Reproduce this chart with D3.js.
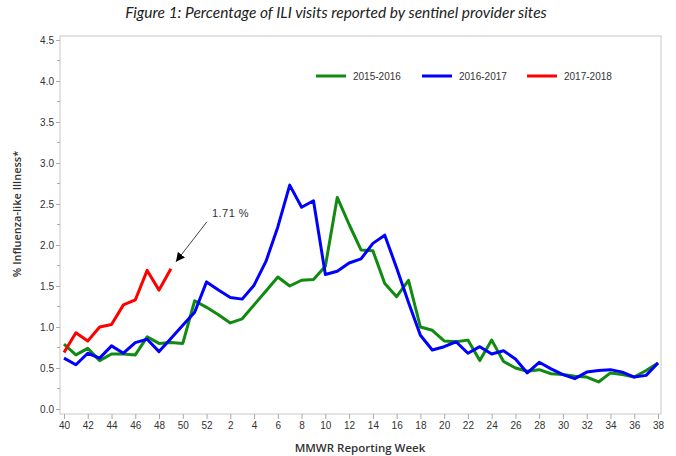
<!DOCTYPE html>
<html>
<head>
<meta charset="utf-8">
<script src="https://cdn.jsdelivr.net/npm/d3@7"></script>
<style>
  body { margin: 0; background: #fff; }
  svg text { font-family: "Liberation Sans", Arial, sans-serif; }
</style>
</head>
<body>
<svg id="chart" width="676" height="456"></svg>
<script>
// MMWR weeks, season runs week 40 through week 38
var weeks = [40,41,42,43,44,45,46,47,48,49,50,51,52,
             1,2,3,4,5,6,7,8,9,10,11,12,13,14,15,16,17,18,19,20,
             21,22,23,24,25,26,27,28,29,30,31,32,33,34,35,36,37,38];

var season1516 = [0.79,0.66,0.74,0.59,0.67,0.67,0.66,0.88,0.80,0.81,0.80,1.32,1.24,
                  1.15,1.05,1.10,1.27,1.44,1.61,1.50,1.57,1.58,1.74,2.58,2.25,1.94,1.93,1.53,1.37,1.57,1.00,0.96,0.83,
                  0.82,0.84,0.59,0.84,0.58,0.50,0.46,0.48,0.43,0.42,0.40,0.39,0.33,0.44,0.42,0.39,0.47,0.56];
var season1617 = [0.62,0.54,0.68,0.62,0.77,0.68,0.81,0.85,0.70,0.86,1.02,1.18,1.55,
                  1.45,1.36,1.34,1.51,1.80,2.22,2.73,2.46,2.54,1.64,1.68,1.78,1.83,2.02,2.12,1.72,1.30,0.90,0.72,0.76,
                  0.82,0.68,0.76,0.67,0.71,0.61,0.44,0.57,0.49,0.42,0.37,0.45,0.47,0.48,0.45,0.39,0.41,0.56];
var season1718 = [0.69,0.93,0.83,1.00,1.03,1.27,1.33,1.69,1.45,1.71];

var seriesNames = ["2015-2016", "2016-2017", "2017-2018"];
var seriesColors = ["#108a10", "#0000ff", "#ff0000"];
var yTicks = [0.0,0.5,1.0,1.5,2.0,2.5,3.0,3.5,4.0,4.5];
var latestLabel = "1.71 %";

var svg = d3.select("#chart");
var frame = {left: 60, right: 661, top: 36, bottom: 414};

var x = d3.scaleLinear().domain([0, weeks.length - 1]).range([64, 658]);
var y = d3.scaleLinear().domain([0, 4.5]).range([409, 40]);

// title
svg.append("text")
    .attr("x", 336).attr("y", 18)
    .attr("text-anchor", "middle")
    .style("font-family", "Lato, sans-serif")
    .style("font-style", "italic")
    .style("font-size", "15.5px")
    .style("fill", "#222")
    .text("Figure 1: Percentage of ILI visits reported by sentinel provider sites");

// plot frame
svg.append("rect")
    .attr("x", frame.left).attr("y", frame.top)
    .attr("width", frame.right - frame.left)
    .attr("height", frame.bottom - frame.top)
    .attr("fill", "none")
    .attr("stroke", "#c8c8c8");

// y axis
var yAxis = d3.axisLeft(y).tickValues(yTicks).tickFormat(d3.format(".1f")).tickSize(4).tickSizeOuter(0);
var yg = svg.append("g").attr("transform", "translate(" + frame.left + ",0)").call(yAxis);
yg.select(".domain").remove();
// minor ticks
var minor = d3.range(0.25, 4.5, 0.5);
yg.selectAll(".minor").data(minor).enter().append("line")
    .attr("class", "minor")
    .attr("x1", -3).attr("x2", 0)
    .attr("y1", function(d){ return y(d); })
    .attr("y2", function(d){ return y(d); })
    .attr("stroke", "#aaa");
yg.selectAll(".tick line").attr("stroke", "#aaa");
yg.selectAll(".tick text").attr("x", -6).style("font-size", "10px").style("fill", "#333");

// x axis
var xTickIdx = d3.range(0, weeks.length, 2);
var xAxis = d3.axisBottom(x).tickValues(xTickIdx)
    .tickFormat(function(d){ return weeks[d]; })
    .tickSize(5).tickSizeOuter(0);
var xg = svg.append("g").attr("transform", "translate(0," + frame.bottom + ")").call(xAxis);
xg.select(".domain").remove();
xg.selectAll(".tick line").attr("stroke", "#aaa");
xg.selectAll(".tick text").attr("y", 8).style("font-size", "10px").style("fill", "#333");

// axis titles
svg.append("text")
    .attr("transform", "translate(21,214) rotate(-90)")
    .attr("text-anchor", "middle")
    .style("font-family", "\"Open Sans\", sans-serif")
    .style("font-size", "11px")
    .style("font-weight", "600")
    .style("fill", "#333")
    .text("% Influenza-like Illness*");

svg.append("text")
    .attr("x", 360).attr("y", 452)
    .attr("text-anchor", "middle")
    .style("font-family", "\"Open Sans\", sans-serif")
    .style("font-size", "11.5px")
    .style("font-weight", "600")
    .style("fill", "#333")
    .text("MMWR Reporting Week");

// lines
var line = d3.line()
    .x(function(d, i){ return x(i); })
    .y(function(d){ return y(d); });

var allSeries = [season1516, season1617, season1718];
svg.selectAll(".series").data(allSeries).enter().append("path")
    .attr("class", "series")
    .attr("d", line)
    .attr("fill", "none")
    .attr("stroke", function(d, i){ return seriesColors[i]; })
    .attr("stroke-width", 3)
    .attr("stroke-linejoin", "round");

// legend
var legendX = [316, 422, 527];
var legend = svg.selectAll(".legend").data(seriesNames).enter().append("g")
    .attr("class", "legend")
    .attr("transform", function(d, i){ return "translate(" + legendX[i] + ",76)"; });
legend.append("line")
    .attr("x1", 0).attr("x2", 30)
    .attr("stroke", function(d, i){ return seriesColors[i]; })
    .attr("stroke-width", 3);
legend.append("text")
    .attr("x", 37).attr("y", 3.5)
    .style("font-size", "10px")
    .style("fill", "#333")
    .text(function(d){ return d; });

// annotation for latest week
var lastIdx = season1718.length - 1;
svg.append("defs").append("marker")
    .attr("id", "arrow")
    .attr("viewBox", "0 0 10 10")
    .attr("refX", 10).attr("refY", 5)
    .attr("markerWidth", 9).attr("markerHeight", 9)
    .attr("markerUnits", "userSpaceOnUse")
    .attr("orient", "auto")
    .append("path").attr("d", "M0,0 L10,5 L0,10 z").attr("fill", "#000");

svg.append("line")
    .attr("x1", x(lastIdx) + 36).attr("y1", y(season1718[lastIdx]) - 47)
    .attr("x2", x(lastIdx) + 5).attr("y2", y(season1718[lastIdx]) - 7)
    .attr("stroke", "#444")
    .attr("stroke-width", 1)
    .attr("marker-end", "url(#arrow)");

svg.append("text")
    .attr("x", x(lastIdx) + 41).attr("y", y(season1718[lastIdx]) - 52)
    .style("font-size", "11px")
    .style("fill", "#333")
    .style("letter-spacing", "0.5px")
    .text(latestLabel);
</script>
</body>
</html>
